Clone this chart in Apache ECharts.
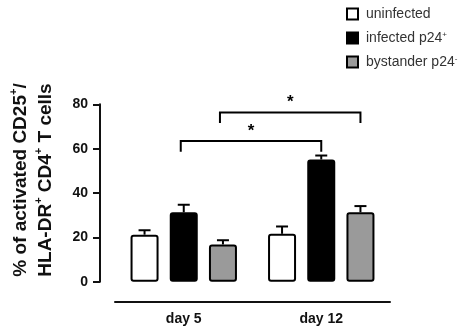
<!DOCTYPE html>
<html>
<head>
<meta charset="utf-8">
<script src="https://cdn.jsdelivr.net/npm/echarts@6/dist/echarts.min.js"></script>
<style>html,body{margin:0;padding:0;background:#fff;}#c{width:458px;height:330px;}</style>
</head>
<body>
<div id="c"></div>
<script>
const categories = ['day 5', 'day 12'];
const seriesNames = ['uninfected', 'infected p24+', 'bystander p24-'];
const uninfected = [21.2, 21.6];
const uninfectedErr = [2.0, 3.3];
const infected = [31.3, 55.1];
const infectedErr = [3.4, 1.8];
const bystander = [16.8, 31.3];
const bystanderErr = [1.9, 2.8];
const yTicks = [0, 20, 40, 60, 80];
// significance brackets: [cat1, seriesIdx1, cat2, seriesIdx2, top, dropEnd, starY]
const brackets = [
  [0, 1, 1, 1, 63.4, 58.6, 68.0],
  [0, 2, 1, 2, 76.3, 71.6, 81.0]
];

const FONT = 'Liberation Sans, Arial, sans-serif';
const BAR_W = 28;
const GAP = 0.4;
const STEP = BAR_W * (1 + GAP);

const chart = echarts.init(document.getElementById('c'));

const errData = [];
[[uninfected, uninfectedErr], [infected, infectedErr], [bystander, bystanderErr]].forEach((pair, s) => {
  pair[0].forEach((v, i) => errData.push([i, s, v, pair[1][i]]));
});

function legendFmt(name) {
  if (name.endsWith('+')) return name.slice(0, -1) + '{sup|+}';
  if (name.endsWith('-')) return name.slice(0, -1) + '{sup|-}';
  return name;
}

chart.setOption({
  animation: false,
  backgroundColor: '#fff',
  grid: { left: 110, right: 68, top: 104.3, bottom: 48.3 },
  legend: {
    data: seriesNames,
    orient: 'vertical',
    left: 346,
    top: 7,
    padding: 0,
    itemWidth: 11,
    itemHeight: 11,
    itemGap: 10,
    icon: 'rect',
    formatter: legendFmt,
    textStyle: {
      fontFamily: FONT, fontSize: 14, color: '#333', padding: [0, 0, 0, 3],
      rich: { sup: { fontSize: 8, verticalAlign: 'top', color: '#333', fontFamily: FONT } }
    }
  },
  xAxis: {
    type: 'category',
    data: categories,
    offset: 20,
    axisLine: { onZero: false, lineStyle: { color: '#111', width: 2 } },
    axisTick: { show: false },
    axisLabel: { fontFamily: FONT, fontWeight: 'bold', fontSize: 14, color: '#111', margin: 10 }
  },
  yAxis: {
    type: 'value',
    min: yTicks[0],
    max: yTicks[yTicks.length - 1],
    interval: 20,
    offset: 15,
    splitLine: { show: false },
    axisLine: { show: true, onZero: false, lineStyle: { color: '#111', width: 2 } },
    axisTick: { show: true, length: 7, lineStyle: { color: '#111', width: 2 } },
    axisLabel: { fontFamily: FONT, fontWeight: 'bold', fontSize: 14, color: '#111', margin: 12 },
    name: '% of activated CD25{sup|+}/\nHLA-DR{sup|+} CD4{sup|+} T cells',
    nameLocation: 'middle',
    nameRotate: 90,
    nameGap: 42,
    nameTextStyle: {
      fontFamily: FONT, fontWeight: 'bold', fontSize: 19, color: '#111', lineHeight: 25,
      padding: [0, 0, 0, 26],
      rich: { sup: { fontFamily: FONT, fontWeight: 'bold', fontSize: 11, verticalAlign: 'top', color: '#111', lineHeight: 25 } }
    }
  },
  series: [
    { name: seriesNames[0], type: 'bar', data: uninfected, barWidth: BAR_W, barGap: (GAP * 100) + '%',
      itemStyle: { color: '#fff', borderColor: '#000', borderWidth: 2, borderRadius: 2 } },
    { name: seriesNames[1], type: 'bar', data: infected, barWidth: BAR_W, barGap: (GAP * 100) + '%',
      itemStyle: { color: '#000', borderColor: '#000', borderWidth: 2, borderRadius: 2 } },
    { name: seriesNames[2], type: 'bar', data: bystander, barWidth: BAR_W, barGap: (GAP * 100) + '%',
      itemStyle: { color: '#9a9a9a', borderColor: '#000', borderWidth: 2, borderRadius: 2 } },
    {
      type: 'custom', data: errData, clip: false, z: 1,
      renderItem: function (params, api) {
        const c = api.value(0), s = api.value(1), v = api.value(2), e = api.value(3);
        const p0 = api.coord([c, v]);
        const p1 = api.coord([c, v + e]);
        const x = p0[0] + (s - 1) * STEP;
        return { type: 'group', children: [
          { type: 'line', shape: { x1: x, y1: p0[1], x2: x, y2: p1[1] }, style: { stroke: '#000', lineWidth: 2 } },
          { type: 'line', shape: { x1: x - 6, y1: p1[1], x2: x + 6, y2: p1[1] }, style: { stroke: '#000', lineWidth: 2 } }
        ] };
      }
    },
    {
      type: 'custom', data: brackets, clip: false, z: 3,
      renderItem: function (params, api) {
        const a = api.coord([api.value(0), api.value(4)]);
        const b = api.coord([api.value(2), api.value(4)]);
        const xa = a[0] + (api.value(1) - 1) * STEP - 3;
        const xb = b[0] + (api.value(3) - 1) * STEP;
        const yTop = a[1];
        const yEnd = api.coord([0, api.value(5)])[1];
        const yStar = api.coord([0, api.value(6)])[1];
        return { type: 'group', children: [
          { type: 'polyline', shape: { points: [[xa, yEnd], [xa, yTop], [xb, yTop], [xb, yEnd]] },
            style: { stroke: '#000', lineWidth: 2, fill: null } },
          { type: 'text', x: (xa + xb) / 2, y: yStar,
            style: { text: '*', fontFamily: FONT, fontWeight: 'bold', fontSize: 17, fill: '#000', align: 'center', verticalAlign: 'middle' } }
        ] };
      }
    }
  ]
});
</script>
</body>
</html>
